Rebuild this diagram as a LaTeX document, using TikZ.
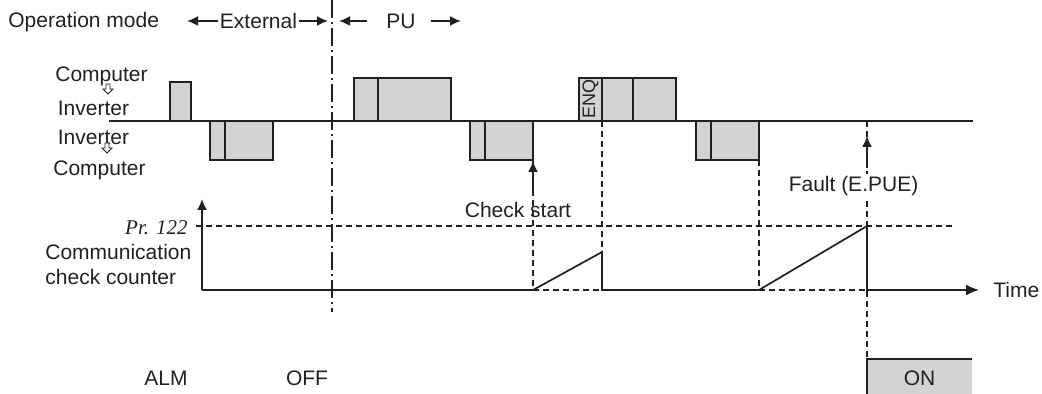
\documentclass[tikz,border=0pt]{standalone}
\usepackage{fontspec}
\setmainfont{Liberation Sans}
\newfontfamily\prfont{Liberation Serif}
\usepackage{tikz}
\usetikzlibrary{arrows.meta, positioning}
\definecolor{LineGray}{RGB}{35, 31, 32}
\definecolor{BoxGray}{RGB}{210, 211, 213}
\tikzset{
  frame/.style={draw=LineGray, fill=BoxGray, line width=0.85pt},
  trace/.style={draw=LineGray, line width=0.85pt},
  guide/.style={draw=LineGray, line width=0.55pt, dash pattern=on 3pt off 2pt},
  modeline/.style={draw=LineGray, line width=0.7pt, dash pattern=on 9pt off 2pt on 1pt off 2pt},
  tip/.style={-{Latex[length=5.5pt, width=5pt]}},
  hollow/.style={draw=LineGray, fill=white, line width=0.4pt, line join=miter}
}

\begin{document}
\begin{tikzpicture}[x=0.5pt, y=-0.5pt, font=\fontsize{10.5}{12.5}\selectfont, text=LineGray, inner sep=0pt]
\useasboundingbox (0,0) rectangle (1042,394);
\node[anchor=west] (mode) at (8,22) {Operation mode};
\node (ext) at (258.5,21) {External};
\node (pu) at (401,21) {PU};
\coordinate (extL) at (187,21);
\coordinate (extR) at (328,21);
\coordinate (puL) at (339,21);
\coordinate (puR) at (461,21);
\draw[trace, tip] ([xshift=-1pt]ext.west) -- (extL);
\draw[trace, tip] ([xshift=1pt]ext.east) -- (extR);
\draw[trace, tip] ([xshift=-9.5pt]pu.west) -- (puL);
\draw[trace, tip] ([xshift=7.5pt]pu.east) -- (puR);
\draw[modeline] (332,0) -- (332,312);

\node (pc1) at (101.5,76) {Computer};
\node (inv1) at (93.5,108) {Inverter};
\node (inv2) at (93.5,137) {Inverter};
\node (pc2) at (99.5,170) {Computer};
\foreach \x/\y in {108/89, 107/148}
  \draw[hollow] (\x-2,\y-5) -- (\x+2,\y-5) -- (\x+2,\y) -- (\x+5,\y) -- (\x,\y+5)
    -- (\x-5,\y) -- (\x-2,\y) -- cycle;

\draw[trace] (109,121) -- (973,121);
\foreach \a/\b/\t/\u in {170/191/82/121, 210/225/121/160, 225/273/121/160,
    354/378/78/121, 378/451/78/121, 470/485/121/160, 485/533/121/160,
    579/602/78/121, 602/633/78/121, 633/676/78/121, 696/711/121/160, 711/759/121/160}
  \draw[frame] (\a,\t) rectangle (\b,\u);
\node[rotate=90, font=\fontsize{9}{10}\selectfont] (enq) at (590.5,99.5) {ENQ};

\draw[guide] (533,160) -- (533,290);
\draw[guide] (602,121) -- (602,290);
\draw[guide] (759,160) -- (759,290);
\draw[guide] (867,121) -- (867,359);
\draw[guide] (196,226) -- (955,226);
\draw[guide] (533,290) -- (602,290) (759,290) -- (867,290);

\node (chk) at (518,210) {Check start};
\coordinate (chkB) at (533,196);
\coordinate (chkT) at (533,161);
\draw[trace, tip] (chkB) -- (chkT);
\node[fill=white, inner sep=1pt] (fault) at (853.5,186) {Fault (E.PUE)};
\coordinate (faultB) at (867,168);
\coordinate (faultT) at (867,136);
\draw[trace, tip] (faultB) -- (faultT);

\node[anchor=east, font=\prfont\itshape\fontsize{10.5}{12.5}\selectfont] (pr) at (188,228) {Pr. 122};
\node[anchor=west, align=left] (ccc) at (45,264) {Communication\\check counter};
\coordinate (org) at (202,290);
\coordinate (yTop) at (202,199);
\draw[trace, tip] (org) -- (yTop);
\draw[trace, -{Latex[length=6.5pt, width=5.5pt]}] (org) -- (533,290) -- (602,252) -- (602,290)
  -- (759,290) -- (867,226) -- (867,290) -- (979,290);
\node[anchor=west] (time) at (993,290) {Time};

\node (alm) at (166,378) {ALM};
\node (off) at (307,378) {OFF};
\fill[BoxGray] (867,359) rectangle (972,394);
\draw[trace] (867,394) -- (867,359) -- (972,359);
\node (on) at (919.5,378) {ON};
\end{tikzpicture}
\end{document}
